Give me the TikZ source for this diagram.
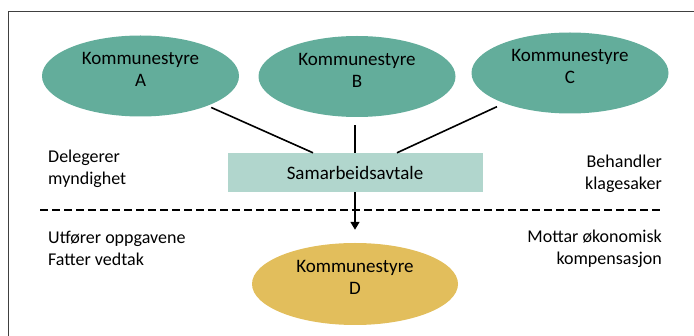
\documentclass[tikz,border=0pt]{standalone}
\usepackage{fontspec}
\setmainfont{Carlito}
\usetikzlibrary{shapes.geometric,arrows.meta,calc}
\definecolor{kommgreen}{HTML}{63AD9B}
\definecolor{avtalegreen}{HTML}{B1D6CD}
\definecolor{kommgold}{HTML}{E2BE5C}
\begin{document}
\begin{tikzpicture}[x=1pt,y=-1pt]

    \tikzset{
      komm/.style={
        ellipse,
        fill=kommgreen,
        minimum width=197pt,
        minimum height=81pt,
        inner sep=0pt,
        align=center,
        text depth=12.5pt,
        font=\fontsize{19}{22}\selectfont,
      },
      avtale/.style={
        fill=avtalegreen,
        minimum width=255pt,
        minimum height=39pt,
        inner sep=0pt,
        font=\fontsize{19}{22}\selectfont,
      },
      sidetext/.style={
        inner sep=0pt,
        font=\fontsize{18}{22.5}\selectfont,
      },
      link/.style={
        line width=1.6pt,
      },
    }
    \useasboundingbox (0,0) rectangle (694,336);
    \draw[color={black!75},line width=1pt] (8,350) -- (8,12) -- (710,12);

	\node[komm] (kommA) at (140.5,76) {Kommunestyre\\A};
	\node[komm] (kommB) at (357,76.5) {Kommunestyre\\B};
	\node[komm] (kommC) at (570,73) {Kommunestyre\\C};
	\node[avtale] (samarbeid) at (355,172.5) {Samarbeidsavtale};
	\node[komm,fill=kommgold,minimum width=206pt,minimum height=82pt] (kommD) at (355,284) {Kommunestyre\\D};

	\coordinate (endA) at ($(samarbeid.north)+(-42,0)$);
	\coordinate (endC) at ($(samarbeid.north)+(42,0)$);
	\draw[link,shorten <=4pt] (kommA) -- (endA);
	\draw[link,shorten >=8pt] (samarbeid.north) -- (samarbeid.north |- kommB.south);
	\draw[link,shorten <=8pt] (kommC) -- (endC);
	\draw[link,-{Triangle[length=8pt,width=9pt]},shorten >=13pt] (samarbeid) -- (kommD);

	\coordinate (dashL) at (40,210);
	\coordinate (dashR) at (663,210);
	\draw[line width=2.2pt,dash pattern=on 8pt off 4pt] (dashL) -- (dashR);

	\node[sidetext,anchor=base west,align=left] (delegerer) at (48,185) {Delegerer\\myndighet};
	\node[sidetext,anchor=base east,align=right] (behandler) at (662,190) {Behandler\\klagesaker};
	\node[sidetext,anchor=base west,align=left] (utforer) at (48,266) {Utfører oppgavene\\Fatter vedtak};
	\node[sidetext,anchor=base east,align=right] (mottar) at (662,265) {Mottar økonomisk\\kompensasjon};

\end{tikzpicture}
\end{document}
